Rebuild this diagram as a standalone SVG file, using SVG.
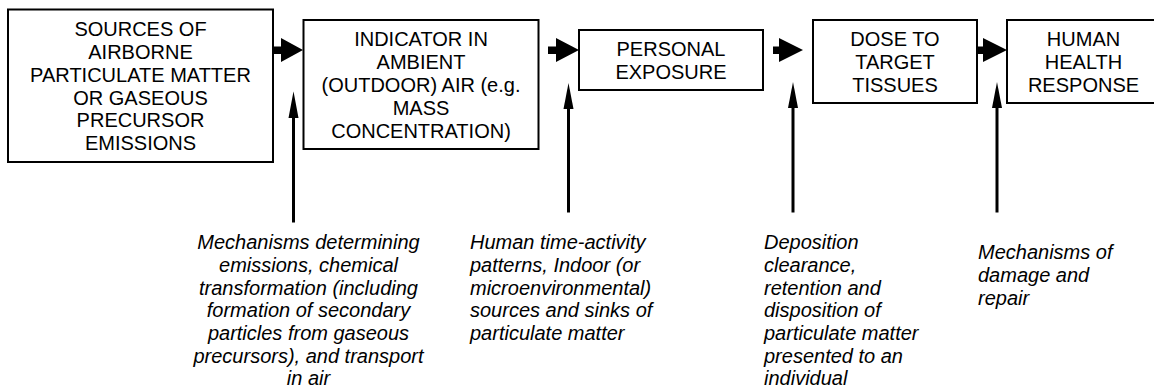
<svg xmlns="http://www.w3.org/2000/svg" width="1154" height="389" viewBox="0 0 1154 389">
<defs>
<style>
.box{fill:#fff;stroke:#000;stroke-width:2}
.bt{font-family:"Liberation Sans",Arial,sans-serif;font-size:20px;fill:#000;text-anchor:middle}
.it{font-family:"Liberation Sans",Arial,sans-serif;font-size:20px;font-style:italic;fill:#000}
.harrow{fill:#000}
.vline{stroke:#000;stroke-width:3;fill:none}
</style>
</defs>
<rect width="1154" height="389" fill="#fff"/>
<g id="connectors">
  <path class="harrow" d="M273,46.5 H281 V38 L303,50 L281,62 V54 H273 Z"/>
  <path class="harrow" d="M548,46.5 H556 V38 L579,50 L556,62 V54 H548 Z"/>
  <path class="harrow" d="M773,46.5 H779 V38 L803,50 L779,62 V54 H773 Z"/>
  <path class="harrow" d="M977,46.5 H983 V38 L1007,50 L983,62 V54 H977 Z"/>
  <line class="vline" x1="293.5" y1="222.5" x2="293.5" y2="112"/>
  <path class="harrow" d="M293.5,91.5 L298.5,118 L288.5,118 Z"/>
  <line class="vline" x1="568.5" y1="212.5" x2="568.5" y2="104"/>
  <path class="harrow" d="M568.5,83 L573.5,109 L563.5,109 Z"/>
  <line class="vline" x1="793" y1="212.5" x2="793" y2="104"/>
  <path class="harrow" d="M793,82 L798,108 L788,108 Z"/>
  <line class="vline" x1="997" y1="212.5" x2="997" y2="104"/>
  <path class="harrow" d="M997,82 L1002,108 L992,108 Z"/>
</g>
<g id="node-sources">
  <rect class="box" x="8" y="9.5" width="265" height="152.5"/>
  <text class="bt" x="140.5" y="36">SOURCES OF</text>
  <text class="bt" x="140.5" y="59">AIRBORNE</text>
  <text class="bt" x="140.5" y="82">PARTICULATE MATTER</text>
  <text class="bt" x="140.5" y="104.5">OR GASEOUS</text>
  <text class="bt" x="140.5" y="127">PRECURSOR</text>
  <text class="bt" x="140.5" y="150">EMISSIONS</text>
</g>
<g id="node-indicator">
  <rect class="box" x="303.5" y="20" width="235" height="129"/>
  <text class="bt" x="421" y="46">INDICATOR IN</text>
  <text class="bt" x="421" y="69">AMBIENT</text>
  <text class="bt" x="421" y="92">(OUTDOOR) AIR (e.g.</text>
  <text class="bt" x="421" y="115">MASS</text>
  <text class="bt" x="421" y="138">CONCENTRATION)</text>
</g>
<g id="node-exposure">
  <rect class="box" x="579" y="30" width="184" height="60"/>
  <text class="bt" x="671" y="56">PERSONAL</text>
  <text class="bt" x="671" y="79">EXPOSURE</text>
</g>
<g id="node-dose">
  <rect class="box" x="813" y="20" width="164" height="83"/>
  <text class="bt" x="895" y="46">DOSE TO</text>
  <text class="bt" x="895" y="69">TARGET</text>
  <text class="bt" x="895" y="92">TISSUES</text>
</g>
<g id="node-response">
  <rect class="box" x="1007" y="20" width="155" height="83"/>
  <text class="bt" x="1083.5" y="46">HUMAN</text>
  <text class="bt" x="1083.5" y="69">HEALTH</text>
  <text class="bt" x="1083.5" y="92">RESPONSE</text>
</g>
<g id="label-mechanisms-emissions">
  <text class="it" text-anchor="middle" x="308.5" y="249">Mechanisms determining</text>
  <text class="it" text-anchor="middle" x="308.5" y="272">emissions, chemical</text>
  <text class="it" text-anchor="middle" x="308.5" y="294.5">transformation (including</text>
  <text class="it" text-anchor="middle" x="308.5" y="317">formation of secondary</text>
  <text class="it" text-anchor="middle" x="308.5" y="340">particles from gaseous</text>
  <text class="it" text-anchor="middle" x="308.5" y="363">precursors), and transport</text>
  <text class="it" text-anchor="middle" x="308.5" y="385">in air</text>
</g>
<g id="label-human-activity">
  <text class="it" x="470" y="249">Human time-activity</text>
  <text class="it" x="470" y="272">patterns, Indoor (or</text>
  <text class="it" x="470" y="294.5">microenvironmental)</text>
  <text class="it" x="470" y="317">sources and sinks of</text>
  <text class="it" x="470" y="340">particulate matter</text>
</g>
<g id="label-deposition">
  <text class="it" x="764" y="249">Deposition</text>
  <text class="it" x="764" y="272">clearance,</text>
  <text class="it" x="764" y="294.5">retention and</text>
  <text class="it" x="764" y="317">disposition of</text>
  <text class="it" x="764" y="340">particulate matter</text>
  <text class="it" x="764" y="363">presented to an</text>
  <text class="it" x="764" y="385">individual</text>
</g>
<g id="label-damage">
  <text class="it" x="978" y="259">Mechanisms of</text>
  <text class="it" x="978" y="282">damage and</text>
  <text class="it" x="978" y="305">repair</text>
</g>
</svg>
